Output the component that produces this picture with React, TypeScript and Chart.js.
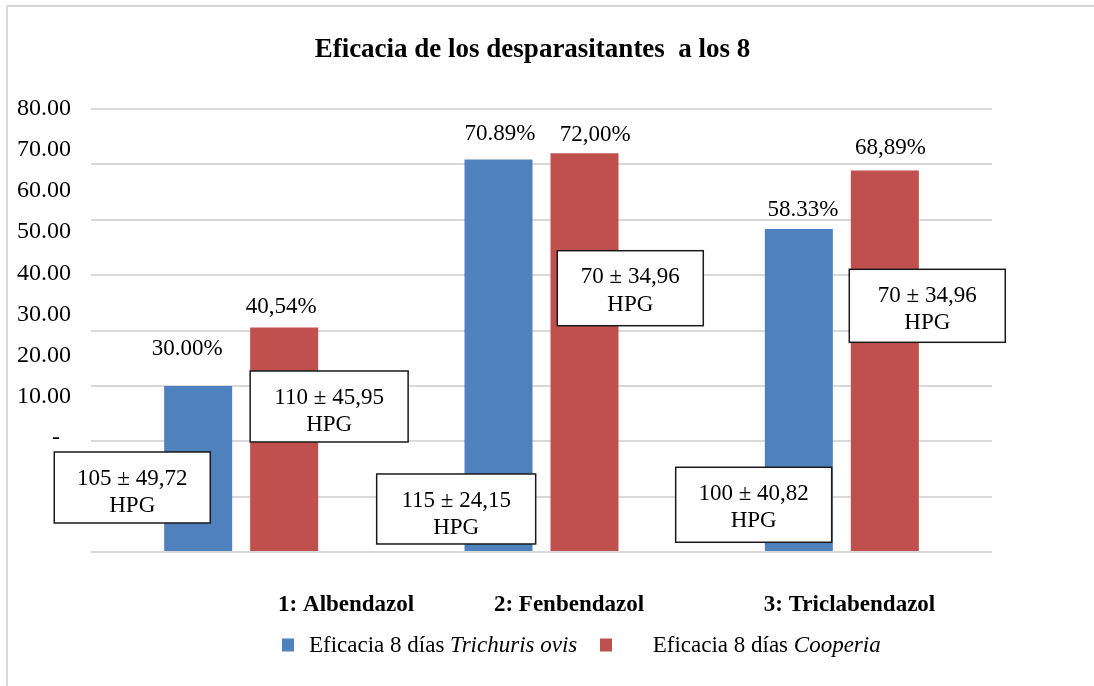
import { useEffect, useRef } from 'react';
import { Chart, registerables } from 'chart.js';

Chart.register(...registerables);

// ---------- data ----------
const categories = ['1: Albendazol', '2: Fenbendazol', '3: Triclabendazol'];
const trichurisValues = [30.0, 70.89, 58.33];
const cooperiaValues = [40.54, 72.0, 68.89];
const trichurisLabels = ['30.00%', '70.89%', '58.33%'];
const cooperiaLabels = ['40,54%', '72,00%', '68,89%'];
const seriesPrefix = ['Eficacia 8 días ', 'Eficacia 8 días '];
const seriesSpecies = ['Trichuris ovis', 'Cooperia'];
const yTickValues = [0, 10, 20, 30, 40, 50, 60, 70, 80];
const yTickLabels = ['-', '10.00', '20.00', '30.00', '40.00', '50.00', '60.00', '70.00', '80.00'];
const hpgTexts = ['105 ± 49,72', '110 ± 45,95', '70 ± 34,96', '115 ± 24,15', '100 ± 40,82', '70 ± 34,96'];
const hpgUnit = 'HPG';
const titleText = 'Eficacia de los desparasitantes  a los 8';

// ---------- layout / style ----------
const BLUE = '#4F81BD';
const RED = '#C0504D';
const GRID = '#d9d9d9';
const FONT = "'Liberation Serif', 'Times New Roman', serif";
// annotation boxes: x in category units, top in value units
const hpgBoxes = [
  { x: -0.3626, top: 18.06, w: 156, h: 71 },
  { x: 0.2929, top: 32.69, w: 158, h: 71 },
  { x: 1.2956, top: 54.41, w: 146, h: 75 },
  { x: 0.7159, top: 14.09, w: 159, h: 70 },
  { x: 1.7065, top: 15.3, w: 156, h: 75 },
  { x: 2.2845, top: 51.05, w: 156, h: 73 },
];
const labelNudge = [
  [{ dx: -11, lift: 38 }, { dx: 1.5, lift: 27 }, { dx: 4, lift: 21 }],
  [{ dx: -3, lift: 22 }, { dx: 10.7, lift: 20 }, { dx: 5.7, lift: 24 }],
];
const categoryShift = [105, 27.5, 7.7];
const legendPos = [
  { sq: 282, text: 309 },
  { sq: 600, text: 652.7 },
];

const overlayPlugin = {
  id: 'overlay',
  beforeDraw(chart: any) {
    const ctx = chart.ctx;
    ctx.save();
    ctx.fillStyle = '#ffffff';
    ctx.fillRect(0, 0, chart.width, chart.height);
    ctx.strokeStyle = GRID;
    ctx.lineWidth = 2;
    ctx.beginPath();
    ctx.moveTo(7, chart.height);
    ctx.lineTo(7, 6);
    ctx.lineTo(chart.width, 6);
    ctx.stroke();
    ctx.restore();
  },
  afterDatasetsDraw(chart: any) {
    const ctx = chart.ctx;
    const xs = chart.scales.x;
    const ys = chart.scales.y;
    const yl = chart.scales.yl;
    ctx.save();
    ctx.fillStyle = '#000';
    ctx.textBaseline = 'alphabetic';

    // title
    ctx.font = `bold 27px ${FONT}`;
    ctx.textAlign = 'center';
    ctx.fillText(titleText, 532.5, 57.3);

    // y labels (text boxes placed independently from grid)
    ctx.font = `24px ${FONT}`;
    ctx.textAlign = 'left';
    yTickValues.forEach((v, i) => {
      const py = yl.getPixelForValue(v) + 8;
      ctx.fillText(yTickLabels[i], v === 0 ? 52 : 17, py);
    });

    // data labels
    ctx.font = `23px ${FONT}`;
    ctx.textAlign = 'center';
    const labelSets = [trichurisLabels, cooperiaLabels];
    [0, 1].forEach((di) => {
      const meta = chart.getDatasetMeta(di);
      meta.data.forEach((bar: any, i: number) => {
        const n = labelNudge[di][i];
        ctx.fillText(labelSets[di][i], bar.x + n.dx, bar.y - n.lift + 7.6);
      });
    });

    // HPG boxes
    hpgBoxes.forEach((b, i) => {
      const cx = xs.getPixelForValue(b.x);
      const top = ys.getPixelForValue(b.top);
      const left = cx - b.w / 2;
      ctx.fillStyle = '#ffffff';
      ctx.fillRect(left, top, b.w, b.h);
      ctx.strokeStyle = '#1a1a1a';
      ctx.lineWidth = 1.5;
      ctx.strokeRect(left, top, b.w, b.h);
      ctx.fillStyle = '#000';
      ctx.font = `23px ${FONT}`;
      ctx.textAlign = 'center';
      ctx.fillText(hpgTexts[i], cx, top + 25 + 7.6);
      ctx.fillText(hpgUnit, cx, top + 52.5 + 7.6);
    });

    // category labels
    ctx.font = `bold 23px ${FONT}`;
    ctx.textAlign = 'center';
    categories.forEach((c, i) => {
      ctx.fillText(c, xs.getPixelForValue(i) + categoryShift[i], 611);
    });

    // legend
    const colors = [BLUE, RED];
    [0, 1].forEach((i) => {
      const p = legendPos[i];
      ctx.fillStyle = colors[i];
      ctx.fillRect(p.sq, 638.5, 12, 13);
      ctx.fillStyle = '#000';
      ctx.textAlign = 'left';
      ctx.font = `23px ${FONT}`;
      ctx.fillText(seriesPrefix[i], p.text, 651.7);
      const w = ctx.measureText(seriesPrefix[i]).width;
      ctx.font = `italic 23px ${FONT}`;
      ctx.fillText(seriesSpecies[i], p.text + w, 651.7);
    });

    ctx.restore();
  },
};

export default function App() {
  const ref = useRef<HTMLCanvasElement | null>(null);

  useEffect(() => {
    if (!ref.current) return;
    const chart = new Chart(ref.current, {
      type: 'bar',
      data: {
        labels: categories,
        datasets: [
          {
            label: seriesPrefix[0] + seriesSpecies[0],
            data: trichurisValues,
            backgroundColor: BLUE,
            categoryPercentage: 0.5727,
            barPercentage: 0.7907,
          },
          {
            label: seriesPrefix[1] + seriesSpecies[1],
            data: cooperiaValues,
            backgroundColor: RED,
            categoryPercentage: 0.5727,
            barPercentage: 0.7907,
          },
        ],
      },
      options: {
        responsive: false,
        animation: false,
        devicePixelRatio: 1,
        layout: { padding: { left: 91, right: 102, top: 109, bottom: 134 } },
        plugins: {
          legend: { display: false },
          title: { display: false },
          tooltip: { enabled: false },
        },
        scales: {
          x: {
            grid: { display: false, drawTicks: false },
            border: { display: false },
            ticks: { display: false },
          },
          y: {
            min: 0,
            max: 80,
            ticks: { display: false, stepSize: 10 },
            grid: { color: GRID, lineWidth: 2, drawTicks: false },
            border: { display: false },
          },
          yl: {
            type: 'linear',
            display: false,
            position: 'left',
            min: -28.16,
            max: 79.51,
          },
        },
      },
      plugins: [overlayPlugin],
    } as any);
    return () => chart.destroy();
  }, []);

  return (
    <div style={{ position: 'fixed', left: 0, top: 0, width: 1094, height: 686, background: '#fff' }}>
      <canvas ref={ref} width={1094} height={686} style={{ display: 'block' }} />
    </div>
  );
}
